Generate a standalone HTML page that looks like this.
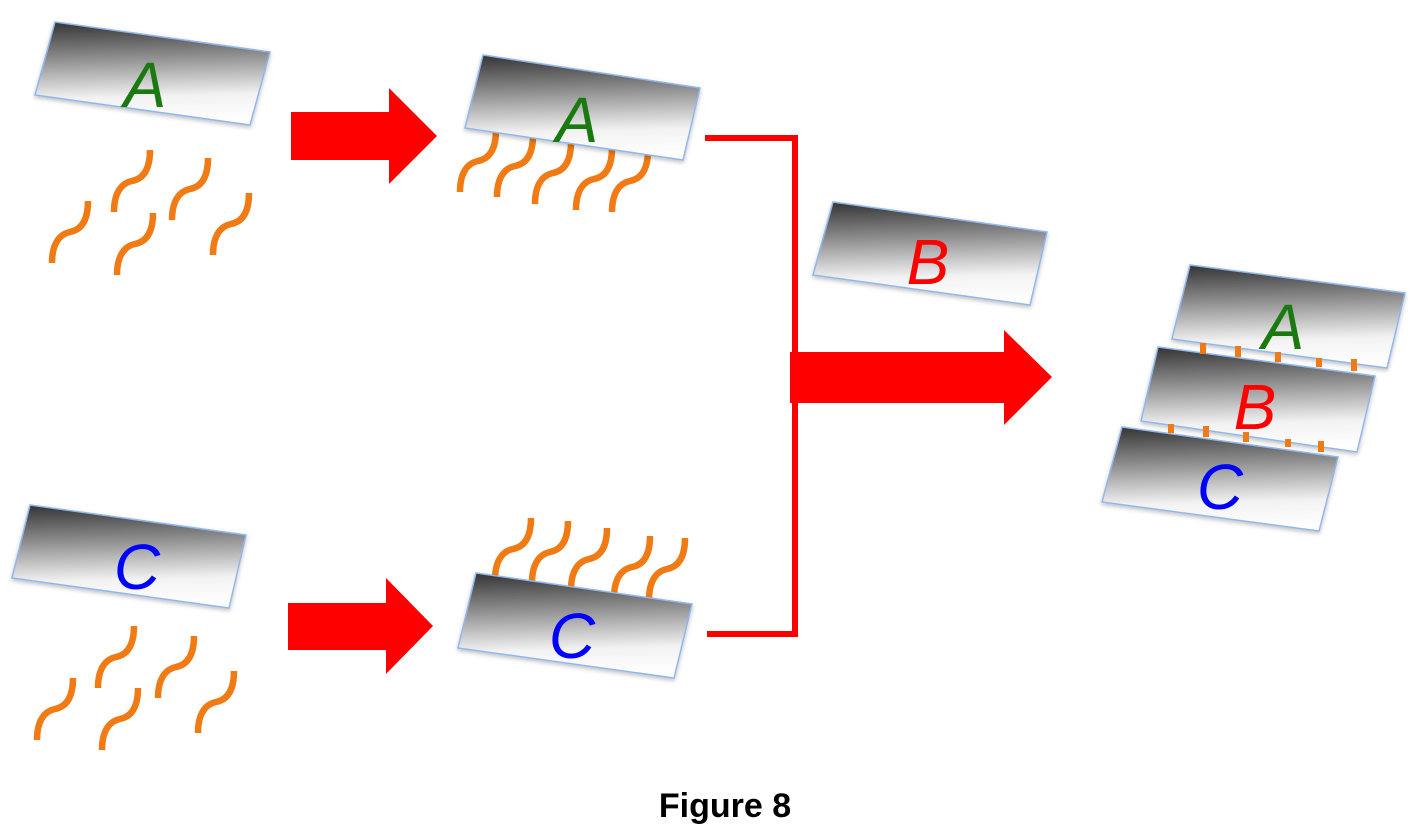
<!DOCTYPE html>
<html><head><meta charset="utf-8"><style>
body{margin:0;background:#fff;width:1418px;height:834px;overflow:hidden}
svg{display:block}
</style></head><body>
<svg width="1418" height="834" viewBox="0 0 1418 834" xmlns="http://www.w3.org/2000/svg">
<defs>
<linearGradient id="g" x1="0" y1="0" x2="0.06" y2="1">
<stop offset="0" stop-color="#333"/><stop offset="0.35" stop-color="#8a8a8a"/><stop offset="0.75" stop-color="#f2f2f2"/><stop offset="1" stop-color="#ffffff"/>
</linearGradient>
<filter id="sh" x="-10%" y="-10%" width="120%" height="130%"><feDropShadow dx="0" dy="2" stdDeviation="2" flood-color="#000" flood-opacity="0.25"/></filter>
<path id="sq" d="M0 62 C0 42 8 33 18 31 C28 29 36 21 36 0" fill="none" stroke="#f07a14" stroke-width="6.5"/>
</defs>
<!-- squiggles behind slabs -->
<use href="#sq" x="52" y="201"/><use href="#sq" x="114" y="150"/><use href="#sq" x="117" y="213"/><use href="#sq" x="172" y="158"/><use href="#sq" x="213" y="193"/>
<use href="#sq" x="37" y="678"/><use href="#sq" x="98" y="626"/><use href="#sq" x="102" y="688"/><use href="#sq" x="158" y="636"/><use href="#sq" x="198" y="671"/>
<use href="#sq" x="460" y="130"/><use href="#sq" x="497" y="135"/><use href="#sq" x="535" y="142"/><use href="#sq" x="576" y="148"/><use href="#sq" x="612" y="150"/>
<use href="#sq" x="495" y="518"/><use href="#sq" x="532" y="521"/><use href="#sq" x="571" y="528"/><use href="#sq" x="614" y="536"/><use href="#sq" x="649" y="538"/>
<g stroke="#8fb7ee" stroke-width="1.5" fill="url(#g)" filter="url(#sh)">
<polygon points="55,22 270,52 250,125 35,95"/>
<polygon points="483,55 700,88 683,160 465,128"/>
<polygon points="833,202 1047,232 1030,305 813,275"/>
<polygon points="30,505 246,535 229,608 12,578"/>
<polygon points="476,573 692,604 674,678 458,648"/>
<polygon points="1190,265 1405,293 1387,368 1172,339"/>
<polygon points="1158,347 1375,376 1357,452 1141,421"/>
<polygon points="1122,427 1338,457 1319,531 1102,502"/>
</g>
<g fill="#f07a14">
<rect x="1200" y="343" width="6" height="11"/><rect x="1235" y="346" width="6" height="11"/><rect x="1275" y="352" width="6" height="10"/><rect x="1316" y="358" width="6" height="9"/><rect x="1351" y="359" width="6" height="12"/>
<rect x="1168" y="424" width="6" height="9"/><rect x="1203" y="426" width="6" height="11"/><rect x="1243" y="432" width="6" height="10"/><rect x="1285" y="439" width="6" height="8"/><rect x="1318" y="441" width="6" height="11"/>
</g>
<g font-family="'Liberation Sans',sans-serif" font-style="italic" font-size="64" text-anchor="middle">
<text x="145" y="107" fill="#1a7a10">A</text>
<text x="577" y="142" fill="#1a7a10">A</text>
<text x="928" y="284" fill="#ff0000">B</text>
<text x="137" y="589" fill="#0000ff">C</text>
<text x="572" y="658" fill="#0000ff">C</text>
<text x="1283" y="349" fill="#1a7a10">A</text>
<text x="1255" y="429" fill="#ff0000">B</text>
<text x="1220" y="509" fill="#0000ff">C</text>
</g>
<g fill="#ff0000">
<polygon points="291,112 389,112 389,88 437,136 389,184 389,160 291,160"/>
<polygon points="288,603 386,603 386,578 433,626 386,674 386,650 288,650"/>
<polygon points="790,352 1004,352 1004,330 1052,377 1004,425 1004,403 790,403"/>
</g>
<polyline points="705,138 795,138 795,634 707,634" fill="none" stroke="#ff0000" stroke-width="6"/>
<text x="725" y="817" font-family="'Liberation Sans',sans-serif" font-weight="bold" font-size="34" text-anchor="middle">Figure 8</text>
</svg>
</body></html>
